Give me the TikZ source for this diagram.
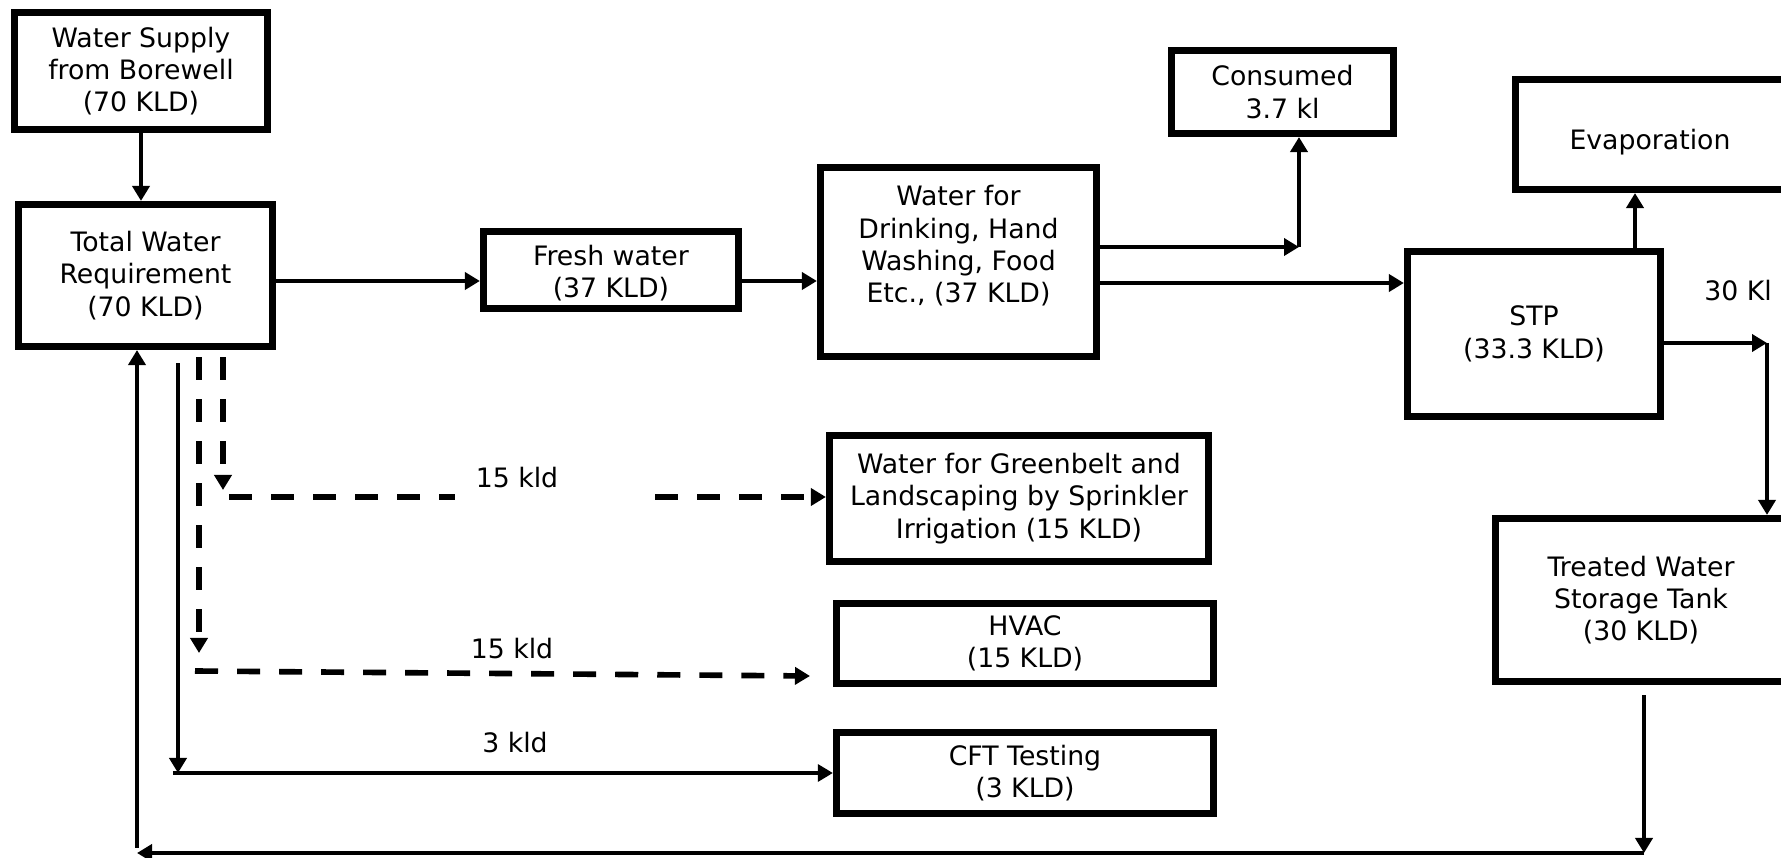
\documentclass[tikz,border=0pt]{standalone}
\usepackage{fontspec}
\setmainfont{DejaVu Sans}
\usetikzlibrary{arrows.meta,positioning}

\tikzset{
  basic/.style    = {draw, line width=2pt, rectangle, align=center, inner sep=0pt, font=\fontsize{7.6}{9.2}\selectfont},
  unit/.style     = {basic},
  txt/.style      = {align=center, inner sep=0pt, font=\fontsize{7.6}{9.2}\selectfont},
  flow/.style     = {-{Triangle[length=0.15cm,width=0.17cm]}, line width=1.4pt},
  thinflow/.style = {flow, line width=0.9pt},
  dflow/.style    = {flow, line width=1.6pt, dash pattern=on 0.23cm off 0.19cm},
  dline/.style    = {line width=1.6pt, dash pattern=on 0.23cm off 0.19cm}
}

\begin{document}
\begin{tikzpicture}[x=0.01cm, y=-0.01cm]
\useasboundingbox (0,0) rectangle (1781,858);

% supply and the main line of use
\node[unit, minimum width=2.53cm, minimum height=1.17cm] (supply) at (141,71) {Water Supply\\from Borewell\\(70 KLD)};
\node[unit, minimum width=2.54cm, minimum height=1.42cm] (total) at (145.5,275.5) {Total Water\\Requirement\\(70 KLD)};
\node[unit, minimum width=2.55cm, minimum height=0.77cm] (fresh) at (611,270) {};
\node[txt] (freshtxt) at (611,273) {Fresh water\\(37 KLD)};
\node[unit, minimum width=2.76cm, minimum height=1.89cm] (drink) at (958.5,262) {};
\node[txt] (drinktxt) at (958.5,246) {Water for\\Drinking, Hand\\Washing, Food\\Etc., (37 KLD)};
\node[unit, minimum width=2.22cm, minimum height=0.83cm] (consumed) at (1282.5,92) {Consumed\\3.7 kl};

% treatment side
\node[unit, minimum width=2.70cm, minimum height=1.10cm] (evap) at (1651,134.5) {};
\node[txt] (evaptxt) at (1650,142) {Evaporation};
\node[unit, minimum width=2.53cm, minimum height=1.65cm] (stp) at (1534,334) {STP\\(33.3 KLD)};
\node[unit, minimum width=2.90cm, minimum height=1.63cm] (tank) at (1641,600) {Treated Water\\Storage Tank\\(30 KLD)};
\node[txt] (reuse) at (1738,291) {30 Kl};

% other uses
\node[unit, minimum width=3.79cm, minimum height=1.26cm] (green) at (1019,498.5) {Water for Greenbelt and\\Landscaping by Sprinkler\\Irrigation (15 KLD)};
\node[unit, minimum width=3.77cm, minimum height=0.80cm] (hvac) at (1025,643.5) {HVAC\\(15 KLD)};
\node[unit, minimum width=3.77cm, minimum height=0.81cm] (cft) at (1025,773) {CFT Testing\\(3 KLD)};

\foreach \i/\x/\y/\t in {1/517/478/15 kld, 2/512/649/15 kld, 3/515/743/3 kld}
  \node[txt] (kld\i) at (\x,\y) {\t};

% bends of the connectors
\coordinate (fin) at (0,281);
\coordinate (cons) at (1299,247);
\coordinate (evapx) at (1635,0);
\coordinate (turn) at (1767,343);
\coordinate (br) at (1644,853);
\coordinate (bl) at (137,853);
\coordinate (cftc) at (178,773);
\coordinate (hvc) at (199,653);
\coordinate (hvs) at (195,671);
\coordinate (hve) at (810,676);
\coordinate (gbc) at (223,490);
\coordinate (gbs) at (229,497);
\coordinate (gbm) at (455,497);
\coordinate (gbr) at (655,497);

% main line
\draw[flow] (supply.south) -- (supply.south |- total.north);
\draw[flow] (total.east |- fin) -- (fresh.west |- fin);
\draw[flow] (fresh.east |- fin) -- (drink.west |- fin);
\draw[flow] (drink.east |- cons) -- (cons);
\draw[flow] (cons) -- (cons |- consumed.south);
\draw[flow] ([yshift=-0.21cm]drink.east) -- ([yshift=-0.21cm]drink.east -| stp.west);
\draw[flow] (stp.north -| evapx) -- (evap.south -| evapx);
\draw[flow] (stp.east |- turn) -- (turn);
\draw[flow] (turn) -- (turn |- tank.north);

% return of treated water
\draw[flow] ([yshift=-0.1cm]tank.south -| br) -- (br);
\draw[flow] (br) -- (bl);
\draw[flow] ([yshift=0.05cm]bl) -- (bl |- total.south);

% branches below the total requirement
\draw[thinflow, line width=1.3pt] ([yshift=-0.13cm]total.south -| cftc) -- (cftc);
\draw[thinflow] ([xshift=-0.05cm]cftc) -- (cftc -| cft.west);
\draw[dflow] ([yshift=-0.07cm]total.south -| hvc) -- (hvc);
\draw[dflow] (hvs) -- (hve);
\draw[dflow] ([yshift=-0.07cm]total.south -| gbc) -- (gbc);
\draw[dline] (gbs) -- (gbm);
\draw[dflow] (gbr) -- (gbr -| green.west);
\end{tikzpicture}
\end{document}
